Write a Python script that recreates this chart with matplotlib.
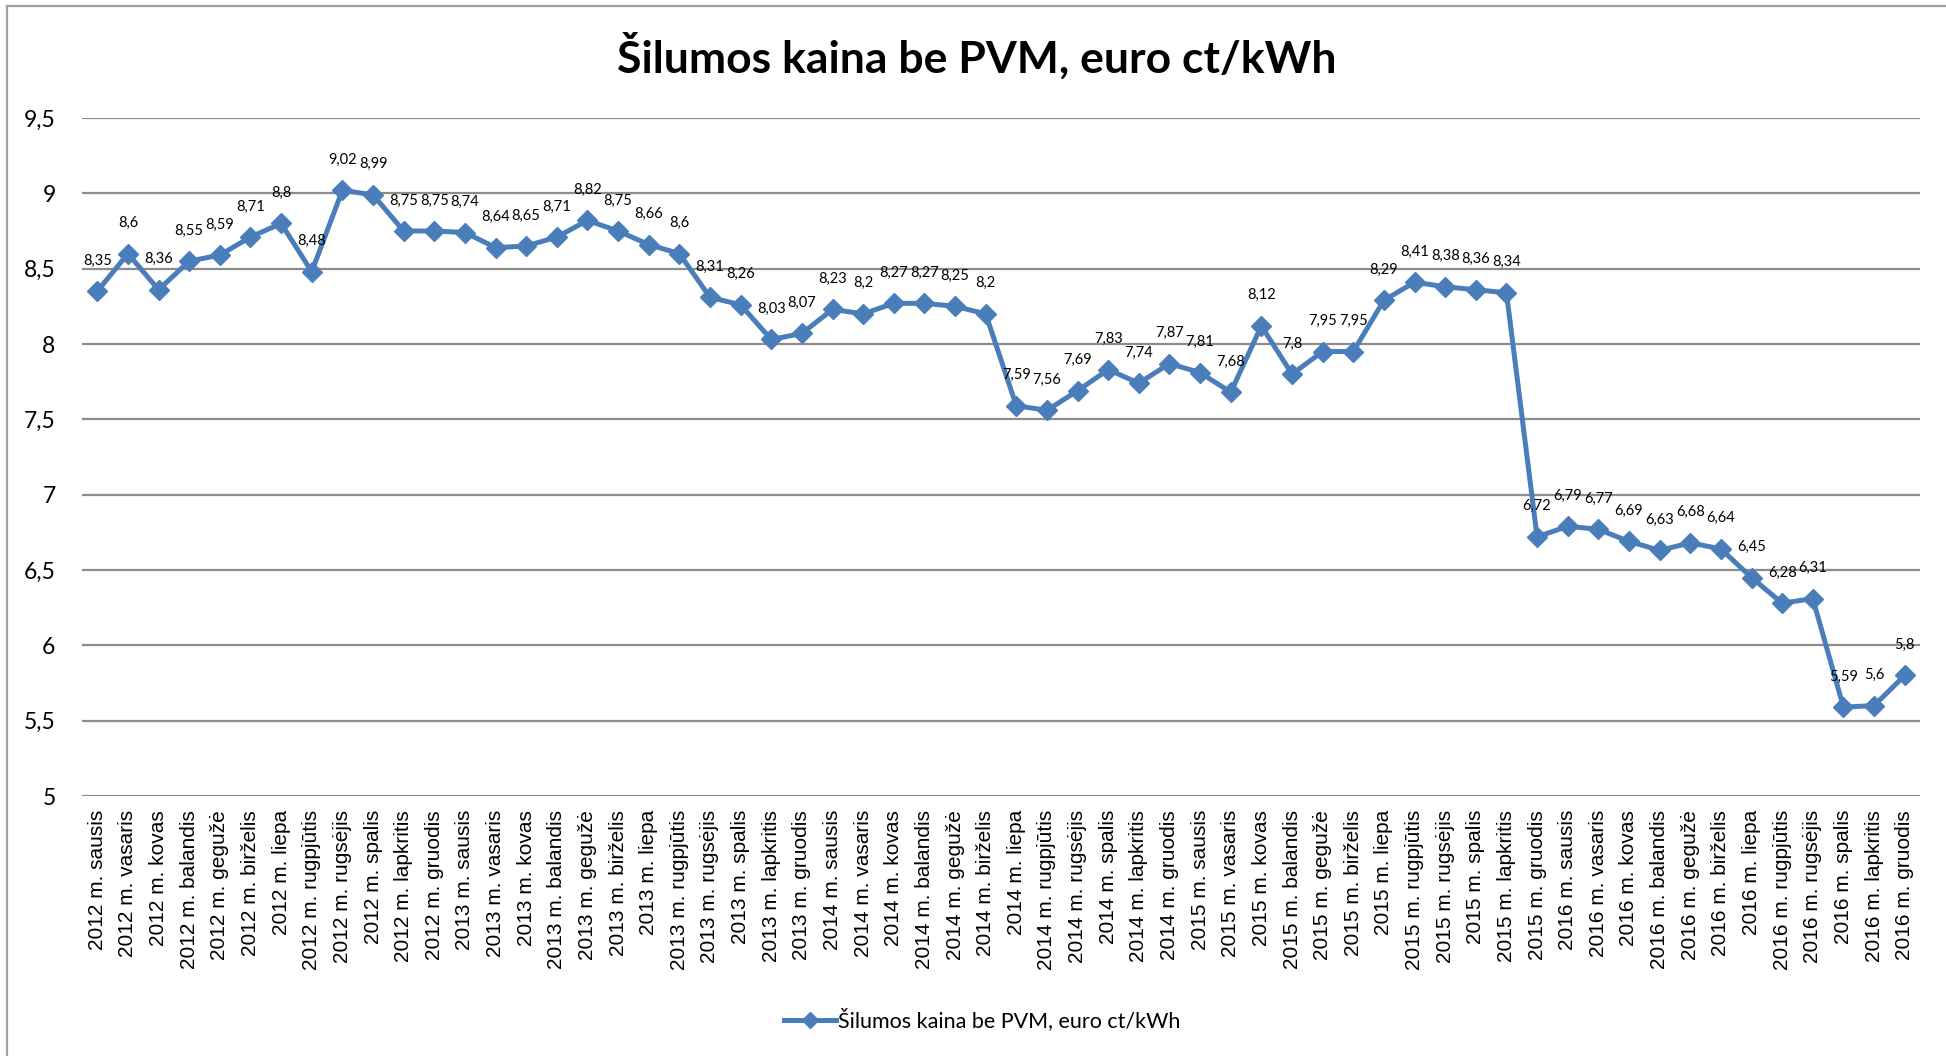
import matplotlib
matplotlib.use("Agg")
import matplotlib.pyplot as plt
from matplotlib.patches import Rectangle

years = ["2012", "2013", "2014", "2015", "2016"]
months = ["sausis", "vasaris", "kovas", "balandis", "gegužė", "birželis",
          "liepa", "rugpjūtis", "rugsėjis", "spalis", "lapkritis", "gruodis"]
labels = [f"{y} m. {m}" for y in years for m in months]

prices = [
    8.35, 8.6, 8.36, 8.55, 8.59, 8.71, 8.8, 8.48, 9.02, 8.99, 8.75, 8.75,
    8.74, 8.64, 8.65, 8.71, 8.82, 8.75, 8.66, 8.6, 8.31, 8.26, 8.03, 8.07,
    8.23, 8.2, 8.27, 8.27, 8.25, 8.2, 7.59, 7.56, 7.69, 7.83, 7.74, 7.87,
    7.81, 7.68, 8.12, 7.8, 7.95, 7.95, 8.29, 8.41, 8.38, 8.36, 8.34, 6.72,
    6.79, 6.77, 6.69, 6.63, 6.68, 6.64, 6.45, 6.28, 6.31, 5.59, 5.6, 5.8,
]
yticks = [5, 5.5, 6, 6.5, 7, 7.5, 8, 8.5, 9, 9.5]

title = "Šilumos kaina be PVM, euro ct/kWh"
BLUE = "#4a7ebb"
GRID = "#8c8c8c"


def fmt(v):
    return (f"{v:g}").replace(".", ",")


fig = plt.figure(figsize=(19.46, 10.56), dpi=100)
ax = fig.add_axes([82 / 1946, 1 - 796 / 1056, (1920 - 82) / 1946, (796 - 118) / 1056])

x = list(range(len(prices)))
ax.plot(x, prices, color=BLUE, lw=3.6, marker="D", markersize=10,
        markeredgecolor=BLUE, label=title, zorder=3)

for xi, v in zip(x, prices):
    ax.annotate(fmt(v), (xi, v), xytext=(0, 22), textcoords="offset points",
                ha="center", va="center", fontsize=10.5, family="Lato", color="black")

ax.set_xlim(-0.5, len(prices) - 0.5)
ax.set_ylim(5, 9.5)
ax.set_yticks(yticks)
ax.set_yticklabels([fmt(t) for t in yticks], family="Lato", fontsize=16.5)
ax.set_xticks(x)
ax.set_xticklabels(labels, rotation=90, family="Liberation Sans", fontsize=15)
ax.tick_params(axis="both", length=0)
ax.tick_params(axis="y", pad=19)
ax.tick_params(axis="x", pad=10)
ax.grid(axis="y", color=GRID, lw=1.6)
ax.set_axisbelow(True)
for s in ax.spines.values():
    s.set_visible(False)

fig.text(977 / 1946, 1 - 56 / 1056, title, ha="center", va="center",
         family="Lato", fontweight="bold", fontsize=32)

fig.legend(loc="center", bbox_to_anchor=(982 / 1946, 1 - 1020 / 1056), frameon=False,
           prop={"family": "Lato", "size": 15.5}, handlelength=2.4, handletextpad=0.1,
           markerscale=0.8)

fig.patches.append(Rectangle((7 / 1946, -0.1), 2, 1 - 6 / 1056 + 0.1,
                             transform=fig.transFigure, fill=False,
                             edgecolor="#a0a0a0", lw=1.6))

fig.savefig("out.png", dpi=100)
